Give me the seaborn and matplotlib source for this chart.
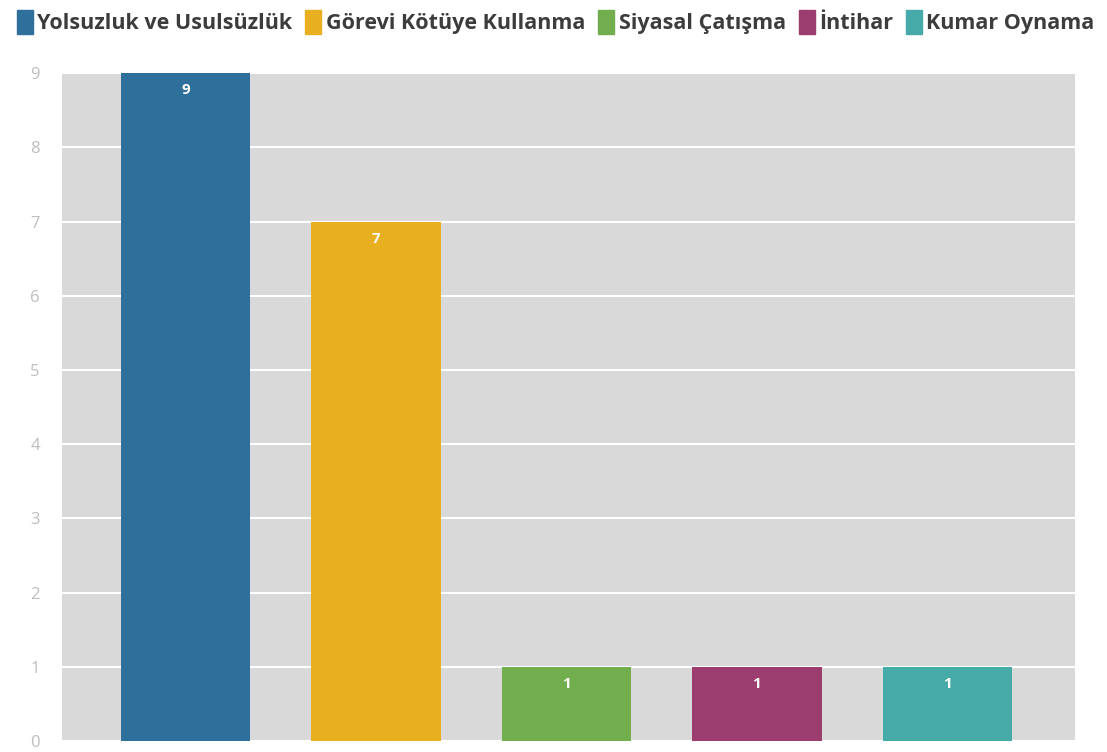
import matplotlib
matplotlib.use("Agg")
import matplotlib.pyplot as plt
import seaborn as sns
import pandas as pd
from matplotlib.patches import Patch

# Veriler
kategoriler = ["Yolsuzluk ve Usulsüzlük", "Görevi Kötüye Kullanma", "Siyasal Çatışma", "İntihar", "Kumar Oynama"]
degerler = [9, 7, 1, 1, 1]
renkler = ["#2e6f9c", "#e8b020", "#72ad4e", "#9b3d6e", "#45aaa8"]
y_ticks = list(range(0, 10))

df = pd.DataFrame({"kategori": kategoriler, "deger": degerler})

sns.set_theme(style="white")
plt.rcParams["font.family"] = ["Open Sans", "DejaVu Sans"]

fig = plt.figure(figsize=(11.07, 7.52), dpi=100)
ax = fig.add_axes([0.056, 0.0146, 0.915, 0.888])
ax.set_facecolor("#d9d9d9")

sns.barplot(data=df, x="kategori", y="deger", hue="kategori", palette=renkler,
            width=0.68, dodge=False, legend=False, ax=ax, saturation=1, linewidth=0)

ax.set_ylim(0, 9)
ax.set_xlim(-0.65, 4.67)
ax.set_yticks(y_ticks)
ax.set_yticklabels([str(t) for t in y_ticks], color="#bdbdbd", fontsize=12)
ax.tick_params(axis="y", length=4, color="#e0e0e0", pad=12)
ax.set_xticks([])
ax.set_xlabel("")
ax.set_ylabel("")
ax.yaxis.grid(True, color="white", linewidth=1.5)
ax.set_axisbelow(True)
for s in ax.spines.values():
    s.set_visible(False)

# Değer etiketleri
for i, v in enumerate(degerler):
    ax.text(i, v - 0.23, str(v), ha="center", va="center", color="white",
            fontsize=11, fontweight="bold")

# Lejant
handles = [Patch(facecolor=c, edgecolor=c) for c in renkler]
leg = fig.legend(handles, kategoriler, loc="upper center", bbox_to_anchor=(0.502, 1.012),
                 ncol=5, frameon=False, handlelength=0.75, handleheight=1.3,
                 handletextpad=0.2, columnspacing=0.6,
                 prop={"weight": "bold", "size": 15.5})
for t in leg.get_texts():
    t.set_color("#3c3c3c")

fig.savefig("out.png", dpi=100)
